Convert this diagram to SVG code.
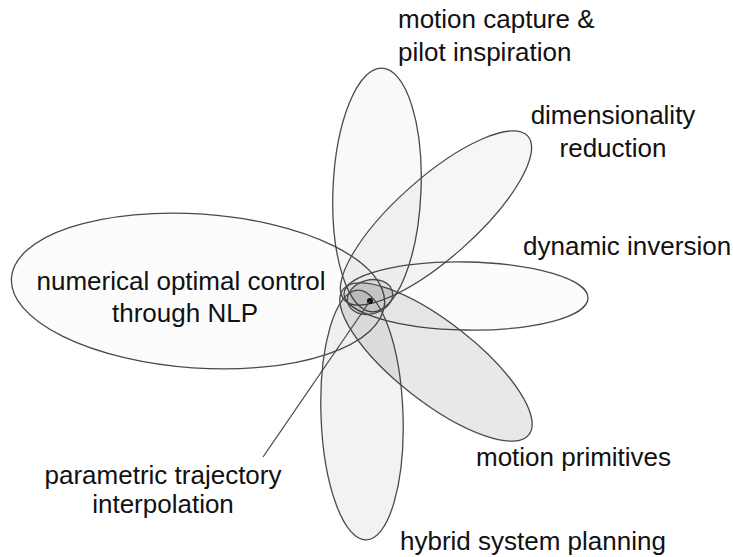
<svg xmlns="http://www.w3.org/2000/svg" width="733" height="557" viewBox="0 0 733 557">
<style>
.e{stroke:#4a4a4a;stroke-width:1.3;fill:#000}
.t{font-family:"Liberation Sans",Arial,sans-serif;font-size:26px;fill:#111}
</style>
<rect width="733" height="557" fill="#fff"/>
<g id="nlp"><ellipse class="e" cx="198" cy="291" rx="187" ry="77" transform="rotate(4 198 291)" fill-opacity="0.012"/>
<text class="t" x="181" y="290" text-anchor="middle">numerical optimal control</text>
<text class="t" x="185" y="322" text-anchor="middle">through NLP</text></g>
<g id="capture"><ellipse class="e" cx="377" cy="190" rx="44" ry="122" transform="rotate(2.4 377 190)" fill-opacity="0.025"/>
<text class="t" x="398" y="28">motion capture &amp;</text>
<text class="t" x="398" y="61">pilot inspiration</text></g>
<g id="dim"><ellipse class="e" cx="436" cy="218" rx="123" ry="40" transform="rotate(-41.7 436 218)" fill-opacity="0.035"/>
<text class="t" x="613" y="124" text-anchor="middle">dimensionality</text>
<text class="t" x="613" y="157" text-anchor="middle">reduction</text></g>
<g id="dyn"><ellipse class="e" cx="466" cy="296" rx="122" ry="34" transform="rotate(1 466 296)" fill-opacity="0.01" stroke="#333" stroke-width="1.5"/>
<text class="t" x="523" y="255">dynamic inversion</text></g>
<g id="primitives"><ellipse class="e" cx="436" cy="362" rx="118" ry="40" transform="rotate(38 436 362)" fill-opacity="0.09"/>
<text class="t" x="476" y="466">motion primitives</text></g>
<g id="hybrid"><ellipse class="e" cx="362" cy="415" rx="41" ry="125" transform="rotate(-2 362 415)" fill-opacity="0.05"/>
<text class="t" x="400" y="550">hybrid system planning</text></g>
<g id="core"><ellipse class="e" cx="370" cy="297" rx="23" ry="17" transform="rotate(-15 370 297)" fill-opacity="0.07"/>
<circle cx="370" cy="301" r="3" fill="#111"/></g>
<g id="parametric"><text class="t" x="163" y="484" text-anchor="middle">parametric trajectory</text>
<text class="t" x="163" y="513" text-anchor="middle">interpolation</text></g>
<g id="connectors"><line x1="263" y1="457" x2="370" y2="301" stroke="#4a4a4a" stroke-width="1.3"/></g>
</svg>
